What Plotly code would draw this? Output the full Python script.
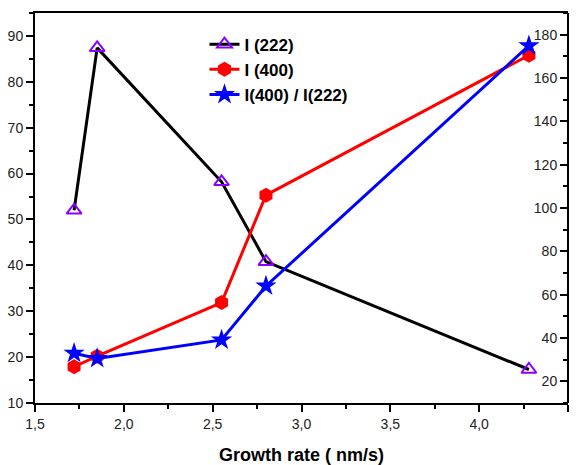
import plotly.graph_objects as go

growth_rate = [1.72, 1.85, 2.55, 2.8, 4.28]
i222 = [52.0, 87.4, 58.2, 40.8, 17.3]
i400 = [17.9, 20.2, 31.9, 55.3, 85.8]
ratio = [33.0, 30.6, 39.1, 64.0, 174.9]

x_ticks = [1.5, 2.0, 2.5, 3.0, 3.5, 4.0, 4.5]
left_ticks = [10, 20, 30, 40, 50, 60, 70, 80, 90]
right_ticks = [20, 40, 60, 80, 100, 120, 140, 160, 180]

tick_font = dict(family="Liberation Sans Narrow, Liberation Sans, Arial", size=14, color="#222")

fig = go.Figure()
fig.add_trace(go.Scatter(
    x=growth_rate, y=i222, name="<b>I (222)</b>", mode="lines+markers",
    line=dict(color="black", width=3),
    marker=dict(symbol="triangle-up-open", size=13, color="#8800ff",
                line=dict(color="#8800ff", width=2)),
))
fig.add_trace(go.Scatter(
    x=growth_rate, y=i400, name="<b>I (400)</b>", mode="lines+markers",
    line=dict(color="#ff0000", width=3),
    marker=dict(symbol="hexagon", size=15, color="#ff0000"),
))
fig.add_trace(go.Scatter(
    x=growth_rate, y=ratio, name="<b>I(400) / I(222)</b>", mode="lines+markers",
    yaxis="y2",
    line=dict(color="#0000ff", width=3),
    marker=dict(symbol="star", size=16, color="#0000ff"),
))

fig.add_annotation(
    text="<b>Growth rate ( nm/s)</b>", xref="paper", yref="paper",
    x=0.5, y=-0.133, xanchor="center", yanchor="middle", showarrow=False,
    font=dict(family="Liberation Sans, Arial", size=18, color="black"),
)

fig.update_layout(
    width=577, height=465,
    margin=dict(l=35, r=9, t=13, b=62),
    paper_bgcolor="white", plot_bgcolor="white",
    separators=",.",
    showlegend=True,
    legend=dict(x=0.318, y=0.965, xanchor="left", yanchor="top",
                bgcolor="rgba(0,0,0,0)",
                font=dict(family="Liberation Sans, Arial", size=17, color="black"),
                itemwidth=30, tracegroupgap=0),
    xaxis=dict(
        range=[1.5, 4.5], tickvals=x_ticks, tickformat=".1f",
        showgrid=False, zeroline=False, automargin=False,
        showline=True, linecolor="black", linewidth=2, mirror=True,
        ticks="outside", ticklen=7, tickwidth=2, tickcolor="black",
        minor=dict(dtick=0.25, ticks="outside", ticklen=4, tickwidth=2, tickcolor="black"),
        tickfont=tick_font,
    ),
    yaxis=dict(
        range=[10, 95], tickvals=left_ticks,
        showgrid=False, zeroline=False, automargin=False,
        showline=True, linecolor="black", linewidth=2,
        ticks="outside", ticklen=7, tickwidth=2, tickcolor="black",
        minor=dict(dtick=5, ticks="outside", ticklen=4, tickwidth=2, tickcolor="black"),
        tickfont=tick_font,
    ),
    yaxis2=dict(
        range=[10, 190], tickvals=right_ticks, overlaying="y",
        anchor="free", position=1.0, side="left",
        showgrid=False, zeroline=False, automargin=False,
        showline=True, linecolor="black", linewidth=2,
        ticks="outside", ticklen=7, tickwidth=2, tickcolor="black",
        minor=dict(dtick=10, ticks="outside", ticklen=4, tickwidth=2, tickcolor="black"),
        tickfont=tick_font,
    ),
)

fig.write_html(
    "out.html",
    config={"displayModeBar": False},
    post_script="document.body.style.margin='0px';document.body.style.overflow='hidden';",
)
